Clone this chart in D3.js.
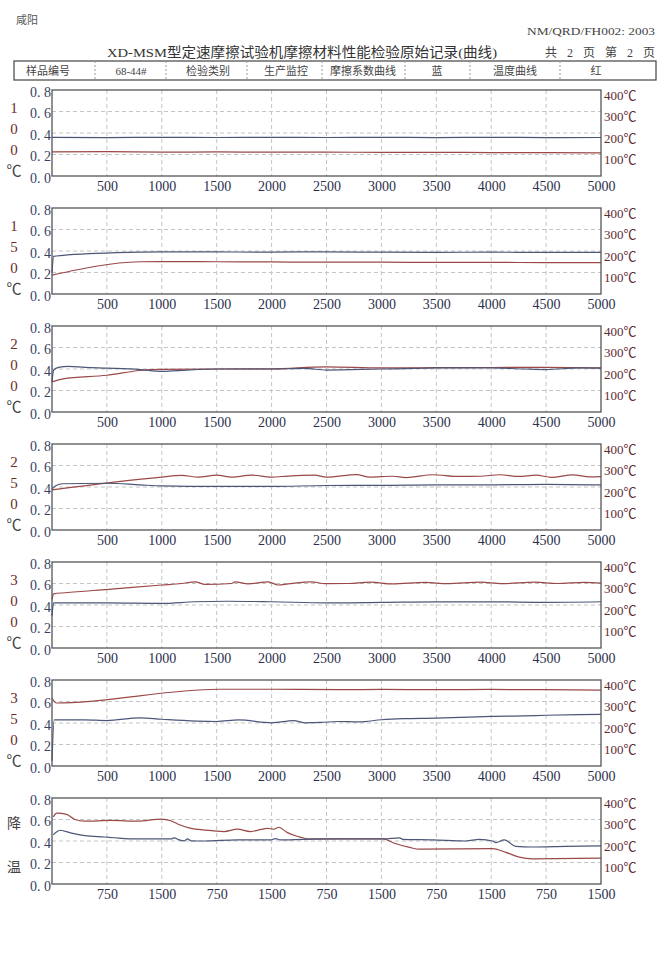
<!DOCTYPE html>
<html lang="zh">
<head>
  <meta charset="UTF-8" />
  <title>XD-MSM 摩擦材料性能检验原始记录(曲线)</title>
  <script src="https://d3js.org/d3.v7.min.js"></script>
  <style>
    body { margin: 0; padding: 0; background: #fff; }
    svg { display: block; background: #fff; }
    text { font-family: "Liberation Serif", "Noto Sans CJK SC", serif; }
    .cjk { font-family: "Noto Sans CJK SC", sans-serif; }
  </style>
</head>
<body>
  <svg></svg>
  <script>
    // axis ticks
    const xTicks = [500, 1000, 1500, 2000, 2500, 3000, 3500, 4000, 4500, 5000];
    const coolTicks = [750, 1500, 2250, 3000, 3750, 4500, 5250, 6000, 6750, 7500];
    const coolTickLabels = ["750", "1500", "750", "1500", "750", "1500", "750", "1500", "750", "1500"];
    const muTicks = [0, 0.2, 0.4, 0.6, 0.8];
    const tempTicks = [100, 200, 300, 400];

    // side labels of each panel
    const sideLabels = [
      ["1", "0", "0", "℃"],
      ["1", "5", "0", "℃"],
      ["2", "0", "0", "℃"],
      ["2", "5", "0", "℃"],
      ["3", "0", "0", "℃"],
      ["3", "5", "0", "℃"],
      ["降", "温"]
    ];

    // friction coefficient (blue) and temperature in ℃ (red)
    const friction100 = [[0, 0.36], [500, 0.357], [1000, 0.36], [1500, 0.358], [2000, 0.36], [2500, 0.358],
      [3000, 0.36], [3500, 0.357], [4000, 0.36], [4500, 0.357], [5000, 0.358]];
    const temp100 = [[0, 112], [500, 113], [1000, 111], [1500, 112], [2000, 111], [2500, 111],
      [3000, 110], [3500, 110], [4000, 109], [4500, 109], [5000, 108]];

    const friction150 = [[0, 0.2], [15, 0.35], [100, 0.36], [400, 0.378], [800, 0.39], [1000, 0.392],
      [1500, 0.391], [2000, 0.39], [2500, 0.392], [3000, 0.389], [3500, 0.388], [4000, 0.389],
      [4500, 0.387], [5000, 0.388]];
    const temp150 = [[0, 88], [800, 150], [1000, 151], [1500, 150], [2000, 149], [2500, 148],
      [3000, 148], [3500, 147], [4000, 147], [4500, 146], [5000, 146]];

    const friction200 = [[0, 0.28], [15, 0.39], [60, 0.415], [150, 0.425], [300, 0.415], [500, 0.408],
      [800, 0.395], [1000, 0.378], [1150, 0.385], [1500, 0.4], [2000, 0.4], [2300, 0.405], [2500, 0.39],
      [3000, 0.4], [3300, 0.405], [3500, 0.41], [4000, 0.41], [4300, 0.4], [4500, 0.395], [4800, 0.41],
      [5000, 0.408]];
    const temp200 = [[0, 140], [100, 154], [500, 171], [800, 193], [1000, 198], [1500, 200], [2000, 201],
      [2500, 210], [3000, 205], [3500, 206], [4000, 207], [4500, 208], [5000, 205]];

    const friction250 = [[0, 0.38], [30, 0.41], [100, 0.43], [500, 0.435], [800, 0.42], [1000, 0.41],
      [1500, 0.405], [2000, 0.405], [2500, 0.414], [3000, 0.415], [3500, 0.42], [4000, 0.42],
      [4500, 0.425], [5000, 0.42]];
    const temp250 = [[0, 187], [1000, 246], [1180, 254], [1333, 246], [1500, 255], [1636, 246],
      [1818, 255], [2000, 246], [2150, 251], [2390, 255], [2500, 246], [2773, 258], [2894, 246],
      [3100, 250], [3227, 244], [3470, 257], [3700, 249], [3900, 250], [4076, 257], [4250, 249],
      [4409, 255], [4550, 245], [4742, 256], [4900, 247], [5000, 248]];

    const friction300 = [[0, 0.3], [15, 0.42], [500, 0.42], [1000, 0.415], [1300, 0.43], [1600, 0.435],
      [2000, 0.43], [2500, 0.42], [3000, 0.425], [3500, 0.43], [4000, 0.43], [4500, 0.425], [5000, 0.43]];
    const temp300 = [[0, 226], [15, 252], [121, 257], [515, 273], [1000, 293], [1180, 300], [1303, 308],
      [1394, 296], [1636, 300], [1667, 308], [1788, 298], [1970, 308], [2060, 293], [2150, 298],
      [2364, 308], [2485, 299], [2700, 300], [2900, 306], [3100, 298], [3400, 305], [3600, 299],
      [3900, 306], [4100, 299], [4400, 306], [4600, 300], [4850, 305], [5000, 302]];

    const friction350 = [[0, 0.05], [20, 0.43], [300, 0.43], [500, 0.423], [800, 0.448], [1000, 0.435],
      [1500, 0.414], [1700, 0.429], [2000, 0.402], [2200, 0.423], [2300, 0.402], [2450, 0.405],
      [2600, 0.414], [2800, 0.41], [3000, 0.43], [3200, 0.44], [3500, 0.445], [3800, 0.455],
      [4000, 0.462], [4300, 0.466], [4500, 0.472], [4800, 0.478], [5000, 0.48]];
    const temp350 = [[0, 315], [40, 293], [1518, 357], [1963, 357], [2640, 355], [3000, 356],
      [3500, 355], [4000, 356], [4500, 355], [5000, 353]];

    const frictionCool = [[18, 0.458], [41, 0.473], [109, 0.5], [267, 0.473], [448, 0.45], [720, 0.437],
      [856, 0.43], [1173, 0.419], [1626, 0.419], [1671, 0.43], [1739, 0.41], [1807, 0.402], [1850, 0.42],
      [1898, 0.402], [2079, 0.4], [2532, 0.41], [2985, 0.41], [3053, 0.422], [3121, 0.41], [3438, 0.415],
      [3981, 0.419], [4524, 0.419], [4751, 0.43], [4790, 0.415], [5204, 0.41], [5656, 0.4],
      [5838, 0.415], [6019, 0.4], [6064, 0.385], [6178, 0.41], [6336, 0.35], [6563, 0.344],
      [7015, 0.35], [7500, 0.355]];
    const tempCool = [[18, 312], [64, 330], [200, 324], [313, 300], [449, 292], [811, 296], [1173, 292],
      [1490, 302], [1626, 294], [1716, 279], [1898, 259], [2079, 251], [2351, 244], [2532, 255],
      [2713, 244], [2940, 259], [3030, 255], [3098, 264], [3211, 240], [3347, 222], [3528, 210],
      [3980, 210], [4524, 210], [4660, 192], [4887, 170], [5023, 162], [6019, 165], [6200, 147],
      [6382, 125], [6563, 117], [7500, 120]];

    const panels = [
      { friction: friction100, temp: temp100 },
      { friction: friction150, temp: temp150 },
      { friction: friction200, temp: temp200 },
      { friction: friction250, temp: temp250 },
      { friction: friction300, temp: temp300 },
      { friction: friction350, temp: temp350 },
      { friction: frictionCool, temp: tempCool, cool: true }
    ];

    const W = 671, H = 960;
    const left = 52, right = 601;
    const firstTop = 90, step = 118, ph = 86;
    const blue = "#4c5678", red = "#9a4848";
    const gridColor = "#c4c4c4", frameColor = "#555";

    const svg = d3.select("svg").attr("width", W).attr("height", H);

    // header
    svg.append("text").attr("class", "cjk")
      .attr("x", 16).attr("y", 24).attr("font-size", 11).attr("fill", "#555")
      .text("咸阳");
    svg.append("text")
      .attr("x", 527).attr("y", 35).attr("font-size", 11).attr("fill", "#444")
      .attr("textLength", 128).attr("lengthAdjust", "spacingAndGlyphs")
      .text("NM/QRD/FH002: 2003");
    svg.append("text")
      .attr("x", 107).attr("y", 57).attr("font-size", 13.5).attr("fill", "#333")
      .attr("textLength", 390).attr("lengthAdjust", "spacingAndGlyphs")
      .text("XD-MSM型定速摩擦试验机摩擦材料性能检验原始记录(曲线)");
    svg.append("text")
      .attr("x", 545).attr("y", 57).attr("font-size", 12).attr("fill", "#444")
      .attr("textLength", 110).attr("lengthAdjust", "spacing")
      .text("共 2 页 第 2 页");

    // info table
    const tableCells = ["样品编号", "68-44#", "检验类别", "生产监控", "摩擦系数曲线", "蓝", "温度曲线", "红"];
    const cellX = [48, 131, 208, 286, 363, 437, 515, 596];
    const cellDiv = [95, 166, 247, 322, 405, 470, 560];
    svg.append("rect")
      .attr("x", 14).attr("y", 61).attr("width", 642).attr("height", 19)
      .attr("fill", "none").attr("stroke", "#444").attr("stroke-width", 1.2);
    svg.selectAll(".cell-div").data(cellDiv).enter().append("line")
      .attr("class", "cell-div")
      .attr("x1", d => d).attr("x2", d => d).attr("y1", 61).attr("y2", 80)
      .attr("stroke", "#999").attr("stroke-dasharray", "2,2");
    svg.selectAll(".cell").data(tableCells).enter().append("text")
      .attr("class", "cell")
      .attr("x", (d, i) => cellX[i]).attr("y", 75)
      .attr("text-anchor", "middle").attr("font-size", 11).attr("fill", "#444")
      .text(d => d);

    panels.forEach((p, i) => {
      const top = firstTop + i * step;
      const g = svg.append("g").attr("transform", `translate(0,${top})`);

      const x = d3.scaleLinear().domain(p.cool ? [0, 7500] : [0, 5000]).range([left, right]);
      const y = d3.scaleLinear().domain([0, 0.8]).range([ph, 0]);
      const yT = d3.scaleLinear().domain([0, 400]).range([ph, 0]);
      const ticks = p.cool ? coolTicks : xTicks;

      // grid
      g.selectAll(".vgrid").data(ticks.slice(0, -1)).enter().append("line")
        .attr("x1", d => x(d)).attr("x2", d => x(d)).attr("y1", 0).attr("y2", ph)
        .attr("stroke", gridColor).attr("stroke-dasharray", "4,3");
      g.selectAll(".hgrid").data([0.2, 0.4, 0.6]).enter().append("line")
        .attr("x1", left).attr("x2", right).attr("y1", d => y(d)).attr("y2", d => y(d))
        .attr("stroke", gridColor).attr("stroke-dasharray", "4,3");

      // curves: temperature on the right scale, friction on the left one
      const tLine = d3.line().x(d => x(d[0])).y(d => yT(d[1])).curve(d3.curveMonotoneX);
      const muLine = d3.line().x(d => x(d[0])).y(d => y(d[1])).curve(d3.curveMonotoneX);
      g.append("path").datum(p.temp)
        .attr("d", tLine).attr("fill", "none").attr("stroke", red).attr("stroke-width", 1.2);
      g.append("path").datum(p.friction)
        .attr("d", muLine).attr("fill", "none").attr("stroke", blue).attr("stroke-width", 1.2);

      // frame
      g.append("rect")
        .attr("x", left).attr("y", 0).attr("width", right - left).attr("height", ph)
        .attr("fill", "none").attr("stroke", frameColor).attr("stroke-width", 1.3);

      // left axis
      const ax = g.append("g").attr("transform", `translate(${left},0)`)
        .call(d3.axisLeft(y).tickValues(muTicks).tickSize(0).tickPadding(1)
          .tickFormat(d => d3.format(".1f")(d).replace(".", ". ")));
      ax.select(".domain").remove();
      ax.selectAll("text").attr("font-size", 14).attr("fill", "#3a3f62")
        .attr("font-family", "Liberation Serif").attr("transform", "translate(0,2)");

      // right axis
      const ar = g.append("g").attr("transform", `translate(${right},0)`)
        .call(d3.axisRight(yT).tickValues(tempTicks).tickSize(0).tickPadding(3)
          .tickFormat(d => d + "℃"));
      ar.select(".domain").remove();
      ar.selectAll("text").attr("font-size", 13).attr("fill", "#5e2b30")
        .attr("font-family", "Liberation Serif").attr("transform", "translate(0,5)");

      // bottom axis
      const ab = g.append("g").attr("transform", `translate(0,${ph})`)
        .call(d3.axisBottom(x).tickValues(ticks).tickSize(0).tickPadding(5)
          .tickFormat((d, k) => p.cool ? coolTickLabels[k] : String(d)));
      ab.select(".domain").remove();
      ab.selectAll("text").attr("font-size", 14).attr("fill", "#2c2f4c")
        .attr("font-family", "Liberation Serif");

      // side label
      const side = sideLabels[i];
      const sideY = p.cool ? [30, 74] : [23, 44, 65, 86];
      g.selectAll(".side").data(side).enter().append("text")
        .attr("class", d => /\d/.test(d) ? "" : "cjk")
        .attr("x", 14).attr("y", (d, k) => sideY[k])
        .attr("text-anchor", "middle")
        .attr("font-size", p.cool ? 14 : 15)
        .attr("fill", d => /\d/.test(d) ? "#6a2c2c" : "#444")
        .text(d => d);
    });
  </script>
</body>
</html>
